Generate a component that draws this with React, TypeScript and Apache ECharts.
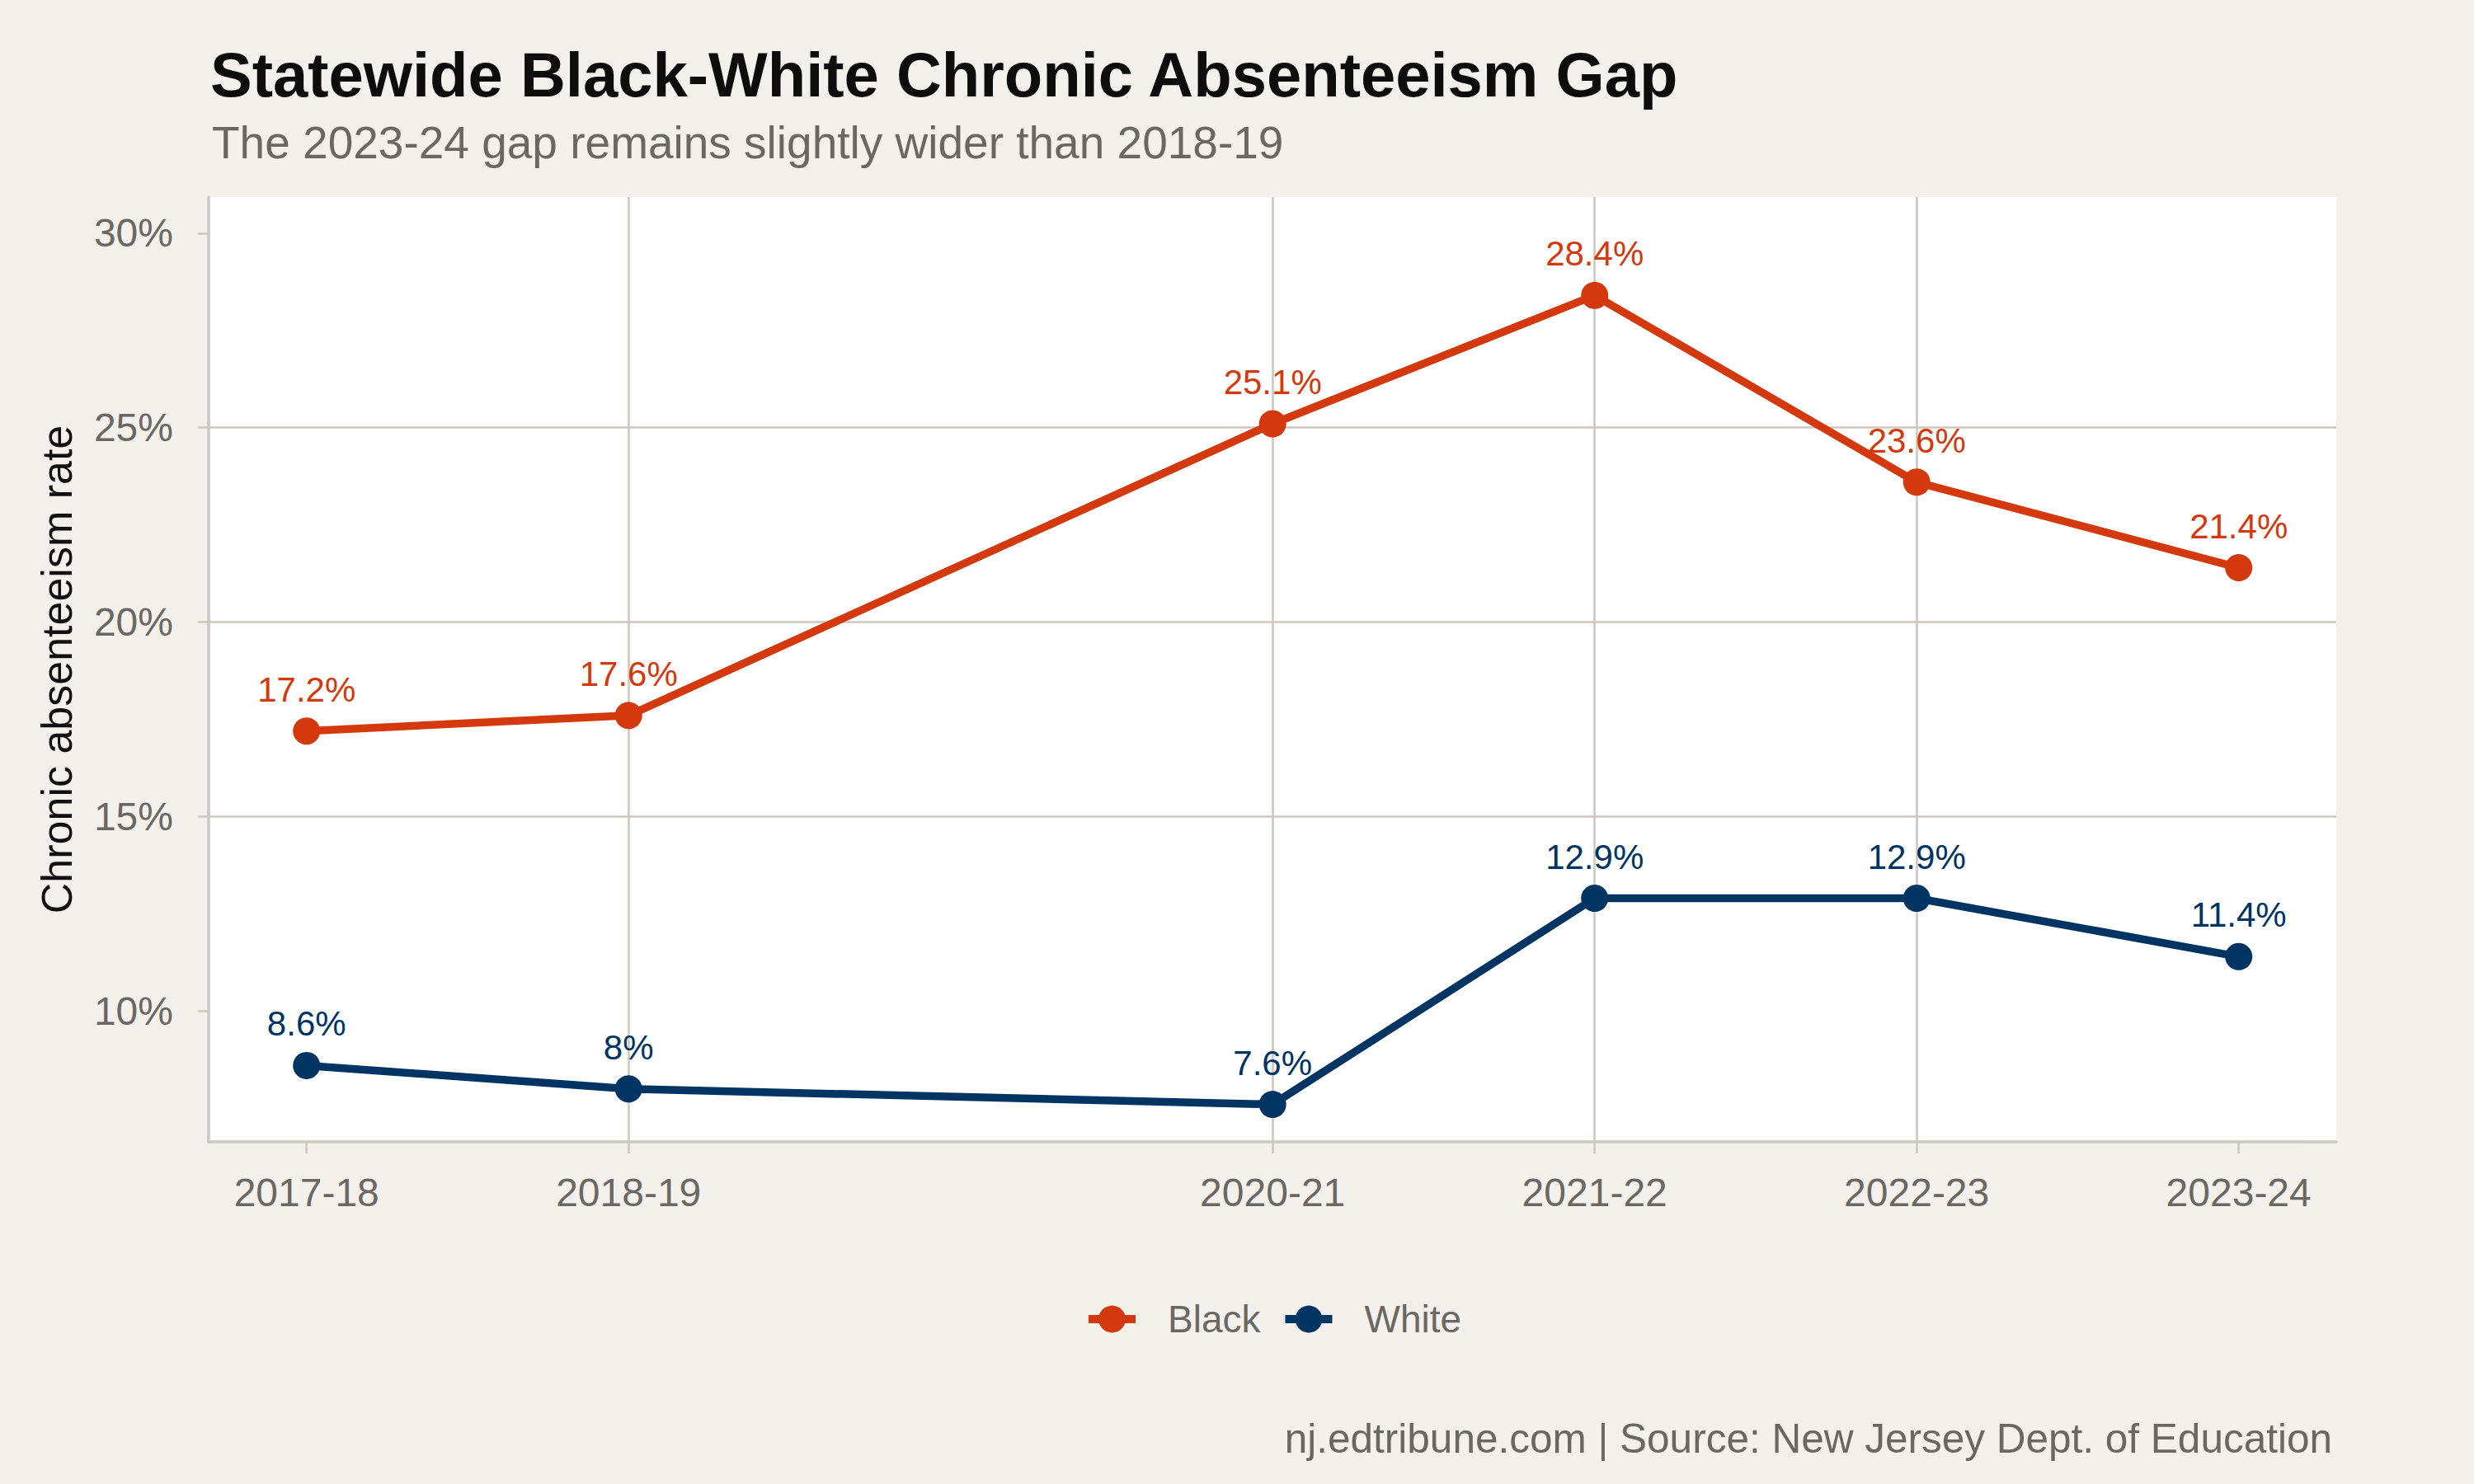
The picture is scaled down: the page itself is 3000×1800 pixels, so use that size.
import React, { useEffect, useRef } from "react";
import * as echarts from "echarts";

const years = [2017, 2018, 2020, 2021, 2022, 2023];
const yearLabels = ["2017-18", "2018-19", "2020-21", "2021-22", "2022-23", "2023-24"];
const blackRates = [17.2, 17.6, 25.1, 28.4, 23.6, 21.4];
const whiteRates = [8.6, 8.0, 7.6, 12.9, 12.9, 11.4];
const yTicks = [10, 15, 20, 25, 30];

const RED = "#d4390e";
const NAVY = "#003463";
const GRID = "#cdc7be";
const GRAY = "#6b6762";
const FONT = "'Liberation Sans', Arial, Helvetica, sans-serif";

export default function App() {
  const ref = useRef<HTMLDivElement>(null);
  useEffect(() => {
    if (!ref.current) return;
    const chart = echarts.init(ref.current, undefined, { renderer: "svg" });
    const mk = (name: string, vals: number[], color: string) => ({
      name,
      type: "line",
      data: years.map((y, i) => [y, vals[i]]),
      symbol: "circle",
      symbolSize: 33,
      lineStyle: { color, width: 9.5 },
      itemStyle: { color },
      label: {
        show: true,
        position: "top",
        distance: 13,
        color,
        fontSize: 42,
        fontFamily: FONT,
        formatter: (p: any) => `${p.value[1]}%`,
      },
      emphasis: { disabled: true },
    });
    chart.setOption({
      animation: false,
      backgroundColor: "#f4f1ec",
      textStyle: { fontFamily: FONT },
      title: [
        {
          text: "Statewide Black-White Chronic Absenteeism Gap",
          left: 250,
          top: 47,
          textStyle: { fontSize: 76, fontWeight: "bold", color: "#0d0d0d", fontFamily: FONT },
        },
        {
          text: "The 2023-24 gap remains slightly wider than 2018-19",
          left: 252,
          top: 140,
          textStyle: { fontSize: 55, fontWeight: "normal", color: GRAY, fontFamily: FONT },
        },
        {
          text: "nj.edtribune.com | Source: New Jersey Dept. of Education",
          right: 167,
          top: 1714,
          textStyle: { fontSize: 49.5, fontWeight: "normal", color: GRAY, fontFamily: FONT },
        },
      ],
      legend: {
        left: 1310,
        top: 1572,
        itemWidth: 57,
        itemHeight: 41,
        itemGap: 25,
        lineStyle: { width: 10 },
        textStyle: { fontSize: 46, color: GRAY, fontFamily: FONT, padding: [0, 0, 0, 34] },
        data: ["Black", "White"],
      },
      grid: {
        left: 253,
        right: 167,
        top: 239,
        bottom: 415,
        show: true,
        backgroundColor: "#ffffff",
        borderWidth: 0,
      },
      xAxis: {
        type: "value",
        min: 2016.696,
        max: 2023.303,
        axisLine: { show: true, onZero: false, lineStyle: { color: GRID, width: 3.5 } },
        axisTick: { show: true, length: 14, customValues: years, lineStyle: { color: GRID, width: 2.5 } },
        axisLabel: {
          customValues: years,
          margin: 37,
          fontSize: 48,
          color: GRAY,
          fontFamily: FONT,
          formatter: (v: number) => {
            const i = years.indexOf(Math.round(v));
            return i >= 0 && Math.abs(v - years[i]) < 1e-6 ? yearLabels[i] : "";
          },
        },
        splitLine: { show: true, showMinLine: false, showMaxLine: false, lineStyle: { color: GRID, width: 2.5 } },
      },
      yAxis: {
        type: "value",
        min: 6.637,
        max: 30.93,
        name: "Chronic absenteeism rate",
        nameLocation: "middle",
        nameGap: 158,
        nameTextStyle: { fontSize: 52, color: "#111111", fontFamily: FONT },
        axisLine: { show: true, onZero: false, lineStyle: { color: GRID, width: 3.5 } },
        axisTick: { show: true, length: 13, customValues: yTicks, lineStyle: { color: GRID, width: 2.5 } },
        axisLabel: {
          customValues: yTicks,
          margin: 43,
          fontSize: 48,
          color: GRAY,
          fontFamily: FONT,
          formatter: (v: number) => (yTicks.some((t) => Math.abs(t - v) < 1e-6) ? `${Math.round(v)}%` : ""),
        },
        splitLine: { show: true, showMinLine: false, showMaxLine: false, lineStyle: { color: GRID, width: 2.5 } },
      },
      series: [mk("Black", blackRates, RED), mk("White", whiteRates, NAVY)],
    });
    return () => chart.dispose();
  }, []);
  return (
    <div
      ref={ref}
      style={{ position: "fixed", left: 0, top: 0, width: 3000, height: 1800 }}
    />
  );
}
